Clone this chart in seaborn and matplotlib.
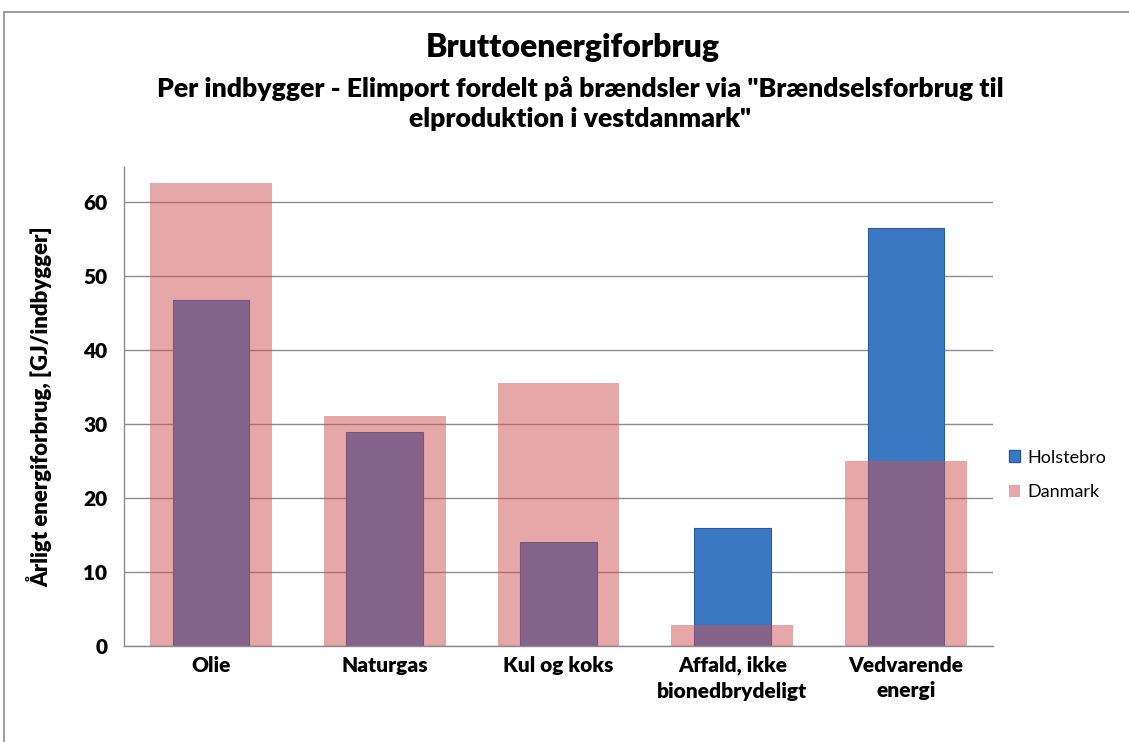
import matplotlib
matplotlib.use("Agg")
import matplotlib.pyplot as plt
import matplotlib.patches as mpatches
import seaborn as sns
import pandas as pd

categories = ["Olie", "Naturgas", "Kul og koks", "Affald, ikke\nbionedbrydeligt", "Vedvarende\nenergi"]
holstebro = [46.8, 29.0, 14.1, 16.0, 56.6]
danmark = [62.7, 31.1, 35.6, 2.8, 25.0]
yticks = [0, 10, 20, 30, 40, 50, 60]

title = "Bruttoenergiforbrug"
subtitle = 'Per indbygger - Elimport fordelt på brændsler via "Brændselsforbrug til\nelproduktion i vestdanmark"'
ylabel = "Årligt energiforbrug, [GJ/indbygger]"

sns.set_theme(style="white")
plt.rcParams['font.family'] = ['Lato', 'DejaVu Sans']
plt.rcParams['text.color'] = 'black'
plt.rcParams['axes.labelcolor'] = 'black'
plt.rcParams['xtick.color'] = 'black'
plt.rcParams['ytick.color'] = 'black'

df_h = pd.DataFrame({"cat": categories, "val": holstebro})
df_d = pd.DataFrame({"cat": categories, "val": danmark})

fig = plt.figure(figsize=(11.29, 7.42), dpi=100)
W, H = 1129, 742
ax = fig.add_axes([124 / W, 1 - 646 / H, (993 - 124) / W, (646 - 167) / H])

blue = "#3b78c4"
pink = "#cd5153"
WEIGHT = "heavy"

sns.barplot(data=df_h, x="cat", y="val", color=blue, width=0.44, ax=ax,
            saturation=1, edgecolor="#2a5a99", linewidth=0.8, zorder=2)
sns.barplot(data=df_d, x="cat", y="val", color=pink, width=0.70, ax=ax,
            saturation=1, alpha=0.5, edgecolor="none", linewidth=0, zorder=3)

ax.set_ylim(0, 64.8)
ax.set_xlim(-0.5, 4.5)
ax.set_yticks(yticks)
ax.yaxis.grid(True, color="#8c8c8c", linewidth=1.0)
ax.set_axisbelow(True)
for s in ["top", "right"]:
    ax.spines[s].set_visible(False)
for s in ["left", "bottom"]:
    ax.spines[s].set_color("#8c8c8c")
    ax.spines[s].set_linewidth(1.0)
ax.set_xlabel("")
ax.set_ylabel(ylabel, fontsize=16, fontweight=WEIGHT, labelpad=22)
ax.tick_params(axis="y", labelsize=15, pad=12, length=0)
ax.tick_params(axis="x", labelsize=15, pad=7, length=0)
for lbl in ax.get_yticklabels() + ax.get_xticklabels():
    lbl.set_fontweight(WEIGHT)
for lbl in ax.get_xticklabels():
    lbl.set_linespacing(1.4)

fig.text(0.5 + 8 / W, 1 - 47 / H, title, ha="center", va="center",
         fontsize=23, fontweight=WEIGHT)
fig.text(0.5 + 16 / W, 1 - 104 / H, subtitle, ha="center", va="center",
         fontsize=19.2, fontweight=WEIGHT, linespacing=1.3)

handles = [mpatches.Patch(facecolor=blue, edgecolor="#2a5a99", label="Holstebro"),
           mpatches.Patch(facecolor=pink, alpha=0.5, edgecolor="none", label="Danmark")]
fig.legend(handles=handles, loc="center left", bbox_to_anchor=(993 / W, 1 - 475 / H),
           frameon=False, fontsize=13, handlelength=0.6, handleheight=0.6,
           handletextpad=0.4, labelspacing=1.05)

border = mpatches.Rectangle((4 / W, -0.05), 1.2, 1 - 12 / H + 0.05,
                            transform=fig.transFigure, fill=False,
                            edgecolor="#8c8c8c", linewidth=1.2)
fig.add_artist(border)

fig.savefig("out.png", dpi=100)
